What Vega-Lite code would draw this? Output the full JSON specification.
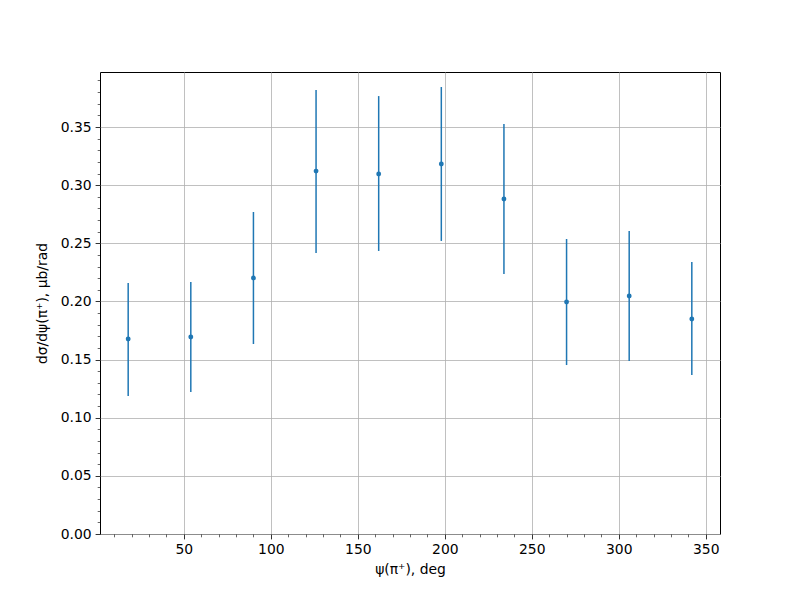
{
  "$schema": "https://vega.github.io/schema/vega-lite/v6.json",
  "autosize": {"type": "none"},
  "padding": {"left": 100, "top": 72, "right": 80, "bottom": 66},
  "width": 620,
  "height": 462,
  "background": "white",
  "config": {
    "view": {"stroke": "black", "strokeWidth": 1},
    "font": "DejaVu Sans",
    "axis": {
      "labelFont": "DejaVu Sans",
      "titleFont": "DejaVu Sans",
      "labelFontSize": 13.9,
      "titleFontSize": 13.9,
      "titleFontWeight": "normal",
      "labelColor": "black",
      "titleColor": "black",
      "tickColor": "black",
      "domainColor": "black",
      "gridColor": "#b0b0b0",
      "gridWidth": 0.8
    }
  },
  "data": {
    "values": [
      {"psi": 18, "val": 0.1677, "lo": 0.1187, "hi": 0.2158},
      {"psi": 54, "val": 0.1694, "lo": 0.1221, "hi": 0.2167},
      {"psi": 90, "val": 0.2201, "lo": 0.1634, "hi": 0.2769},
      {"psi": 126, "val": 0.3121, "lo": 0.2416, "hi": 0.3818},
      {"psi": 162, "val": 0.3096, "lo": 0.2434, "hi": 0.3766},
      {"psi": 198, "val": 0.3182, "lo": 0.2520, "hi": 0.3844},
      {"psi": 234, "val": 0.2881, "lo": 0.2236, "hi": 0.3526},
      {"psi": 270, "val": 0.1995, "lo": 0.1453, "hi": 0.2537},
      {"psi": 306, "val": 0.2047, "lo": 0.1488, "hi": 0.2606},
      {"psi": 342, "val": 0.1849, "lo": 0.1367, "hi": 0.2339}
    ]
  },
  "resolve": {"axis": {"x": "independent", "y": "independent"}},
  "layer": [
    {
      "mark": {"type": "point", "opacity": 0},
      "encoding": {
        "x": {"field": "psi", "type": "quantitative", "scale": {"domain": [1.8, 358.2], "nice": false, "zero": false},
          "axis": {"orient": "bottom", "values": [10,20,30,40,60,70,80,90,110,120,130,140,160,170,180,190,210,220,230,240,260,270,280,290,310,320,330,340], "labels": false, "grid": false, "domain": false, "tickSize": 2.8, "tickWidth": 0.6, "title": null}},
        "y": {"field": "val", "type": "quantitative", "scale": {"domain": [0, 0.3973], "nice": false},
          "axis": {"orient": "left", "values": [0.01,0.02,0.03,0.04,0.06,0.07,0.08,0.09,0.11,0.12,0.13,0.14,0.16,0.17,0.18,0.19,0.21,0.22,0.23,0.24,0.26,0.27,0.28,0.29,0.31,0.32,0.33,0.34,0.36,0.37,0.38,0.39], "labels": false, "grid": false, "domain": false, "tickSize": 2.8, "tickWidth": 0.6, "title": null}}
      }
    },
    {
      "mark": {"type": "rule", "color": "#1f77b4", "strokeWidth": 1.5},
      "encoding": {
        "x": {"field": "psi", "type": "quantitative",
          "axis": {"orient": "bottom", "values": [50,100,150,200,250,300,350], "grid": true, "tickSize": 4.9, "tickWidth": 0.8, "labelPadding": 4, "title": "ψ(π⁺), deg", "titlePadding": 6, "domain": false}},
        "y": {"field": "lo", "type": "quantitative",
          "axis": {"orient": "left", "values": [0,0.05,0.1,0.15,0.2,0.25,0.3,0.35], "format": ".2f", "grid": true, "tickSize": 4.9, "tickWidth": 0.8, "labelPadding": 4, "title": "dσ/dψ(π⁺), μb/rad", "titlePadding": 11, "domain": false}},
        "y2": {"field": "hi"}
      }
    },
    {
      "mark": {"type": "point", "filled": true, "color": "#1f77b4", "opacity": 1, "size": 24},
      "encoding": {
        "x": {"field": "psi", "type": "quantitative", "axis": null},
        "y": {"field": "val", "type": "quantitative", "axis": null}
      }
    }
  ]
}
